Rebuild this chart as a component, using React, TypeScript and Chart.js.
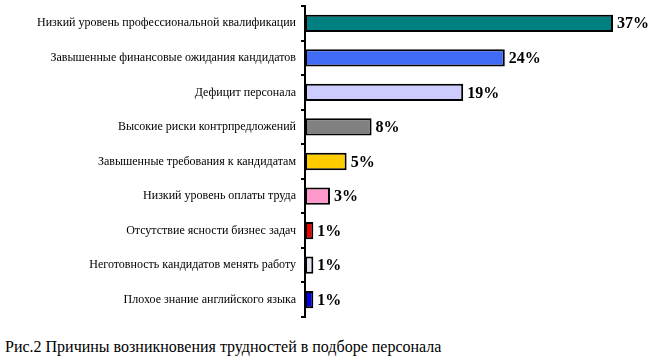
import React, { useEffect, useRef } from "react";
import { Chart, registerables } from "chart.js";

Chart.register(...registerables);

const categories = [
  "Низкий уровень профессиональной квалификации",
  "Завышенные финансовые ожидания кандидатов",
  "Дефицит персонала",
  "Высокие риски контрпредложений",
  "Завышенные требования к кандидатам",
  "Низкий уровень оплаты труда",
  "Отсутствие ясности бизнес задач",
  "Неготовность кандидатов менять работу",
  "Плохое знание английского языка",
];
const values = [37, 24, 19, 8, 5, 3, 1, 1, 1];
const barColors = [
  "#008080",
  "#3F6BF5",
  "#CCCCFF",
  "#808080",
  "#FFCC00",
  "#FF99CC",
  "#EE0000",
  "#E6E0F0",
  "#0000EE",
];
const caption = "Рис.2 Причины возникновения трудностей в подборе персонала";

const valueLabels = {
  id: "valueLabels",
  afterDatasetsDraw(chart: any) {
    const ctx = chart.ctx;
    const meta = chart.getDatasetMeta(0);
    ctx.save();
    ctx.font = "bold 16px 'Liberation Serif', 'Times New Roman', serif";
    ctx.fillStyle = "#000";
    ctx.textAlign = "left";
    ctx.textBaseline = "middle";
    meta.data.forEach((el: any, i: number) => {
      ctx.fillText(values[i] + "%", el.x + 4, el.y + 1);
    });
    ctx.restore();
  },
};

export default function App() {
  const ref = useRef<HTMLCanvasElement>(null);
  useEffect(() => {
    document.body.style.margin = "0";
    const chart = new Chart(ref.current as HTMLCanvasElement, {
      type: "bar",
      data: {
        labels: categories,
        datasets: [
          {
            data: values,
            backgroundColor: barColors,
            borderColor: "#000",
            borderWidth: 2,
            borderSkipped: false,
            barPercentage: 0.5,
            categoryPercentage: 1,
          },
        ],
      },
      options: {
        indexAxis: "y",
        animation: false,
        responsive: false,
        maintainAspectRatio: false,
        layout: { padding: { left: 8, right: 15, top: 6, bottom: 13 } },
        plugins: {
          legend: { display: false },
          tooltip: { enabled: false },
        },
        scales: {
          x: {
            display: false,
            min: 0,
            max: 40,
          },
          y: {
            afterFit: (scale: any) => {
              scale.width = 297;
              scale.paddingTop = 0;
              scale.paddingBottom = 0;
            },
            border: { display: true, color: "#000", width: 2 },
            grid: {
              drawOnChartArea: false,
              drawTicks: true,
              tickLength: 4,
              color: "#000",
              lineWidth: 2,
              offset: true,
            },
            ticks: {
              color: "#000",
              padding: 5,
              font: { family: "'Liberation Serif', 'Times New Roman', serif", size: 12 },
            },
          },
        },
      },
      plugins: [valueLabels],
    });
    return () => chart.destroy();
  }, []);
  return (
    <div style={{ position: "relative", width: 653, height: 360, background: "#fff" }}>
      <canvas ref={ref} width={653} height={330} style={{ display: "block" }} />
      <div
        style={{
          position: "absolute",
          left: 5,
          top: 337,
          fontFamily: "'Liberation Serif', 'Times New Roman', serif",
          fontSize: 16,
          lineHeight: "20px",
          color: "#000",
          whiteSpace: "nowrap",
        }}
      >
        {caption}
      </div>
    </div>
  );
}
